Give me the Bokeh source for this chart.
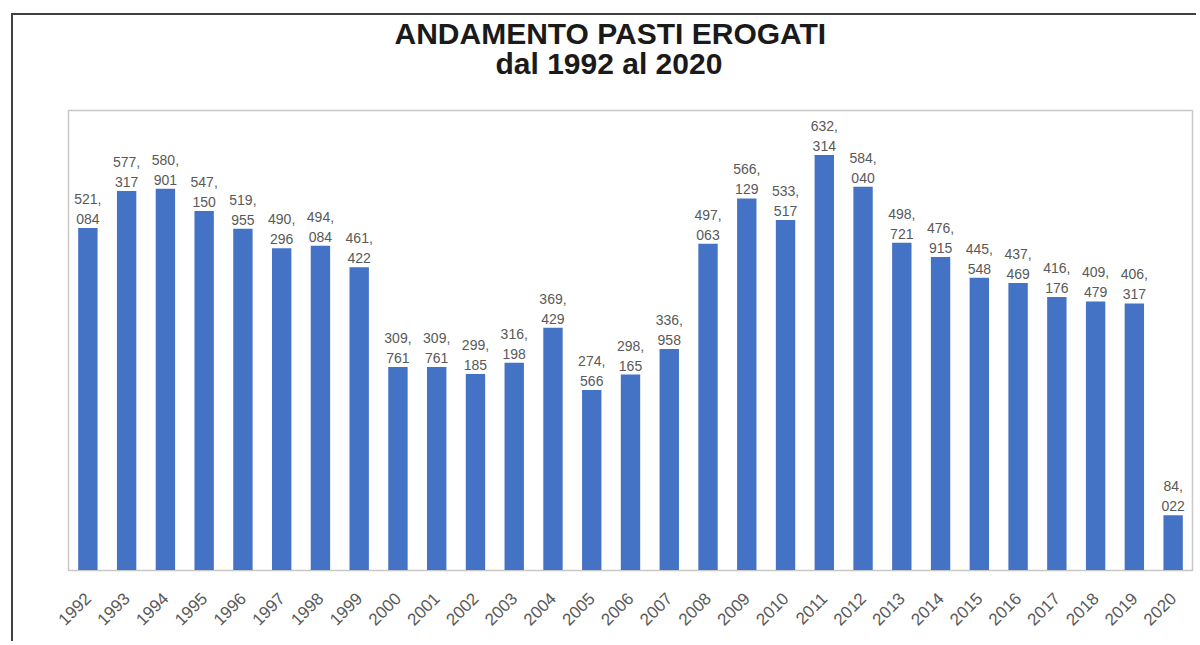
import math
from bokeh.plotting import figure
from bokeh.models import ColumnDataSource, FactorRange, Range1d, Title
from bokeh.embed import file_html
from bokeh.resources import INLINE
from bokeh.core.properties import value

years = [str(y) for y in range(1992, 2021)]
meals = [521084, 577317, 580901, 547150, 519955, 490296, 494084, 461422,
         309761, 309761, 299185, 316198, 369429, 274566, 298165, 336958,
         497063, 566129, 533517, 632314, 584040, 498721, 476915, 445548,
         437469, 416176, 409479, 406317, 84022]

labels = [f"{v // 1000},\n{v % 1000:03d}" for v in meals]

title_line1 = "ANDAMENTO PASTI EROGATI"
title_line2 = "dal 1992 al 2020"

src = ColumnDataSource(dict(year=years, meals=meals, label=labels))

p = figure(x_range=FactorRange(*years, range_padding=0),
           y_range=Range1d(0, 700000),
           width=1185, height=628,
           output_backend="svg", toolbar_location=None,
           min_border_left=55, min_border_right=6,
           min_border_top=95, min_border_bottom=73)

p.styles = {"margin-left": "11px", "margin-top": "13px",
            "border-left": "2px solid #404040",
            "border-top": "2px solid #404040"}

# second line first: it sits closest to the plot area
p.add_layout(Title(text=title_line2, align="left", offset=427, standoff=59,
                   vertical_align="middle",
                   text_font="Liberation Sans", text_font_size="30px",
                   text_font_style="bold", text_color="#1a1a1a"), "above")
p.add_layout(Title(text=title_line1, align="left", offset=326, standoff=-66,
                   text_font="Liberation Sans", text_font_size="30px",
                   text_font_style="bold", text_color="#1a1a1a"), "above")

p.vbar(x="year", top="meals", width=0.5, source=src,
       fill_color="#4472C4", line_color=None)

p.text(x="year", y="meals", text="label", source=src,
       text_align="center", text_baseline="bottom", y_offset=-1,
       text_font=value("Liberation Sans"), text_font_size="14px",
       text_color="#595959", text_line_height=1.25)

p.yaxis.visible = False
p.xgrid.grid_line_color = None
p.ygrid.grid_line_color = None
p.outline_line_color = "#C8C8C8"
p.outline_line_width = 1.5

xa = p.xaxis[0]
xa.axis_line_color = "#C8C8C8"
xa.major_tick_line_color = None
xa.minor_tick_line_color = None
xa.major_label_orientation = math.pi / 4
xa.major_label_text_font = "Liberation Sans"
xa.major_label_text_font_size = "17px"
xa.major_label_text_color = "#595959"
xa.major_label_standoff = 19

open("out.html", "w").write(file_html(p, INLINE))
